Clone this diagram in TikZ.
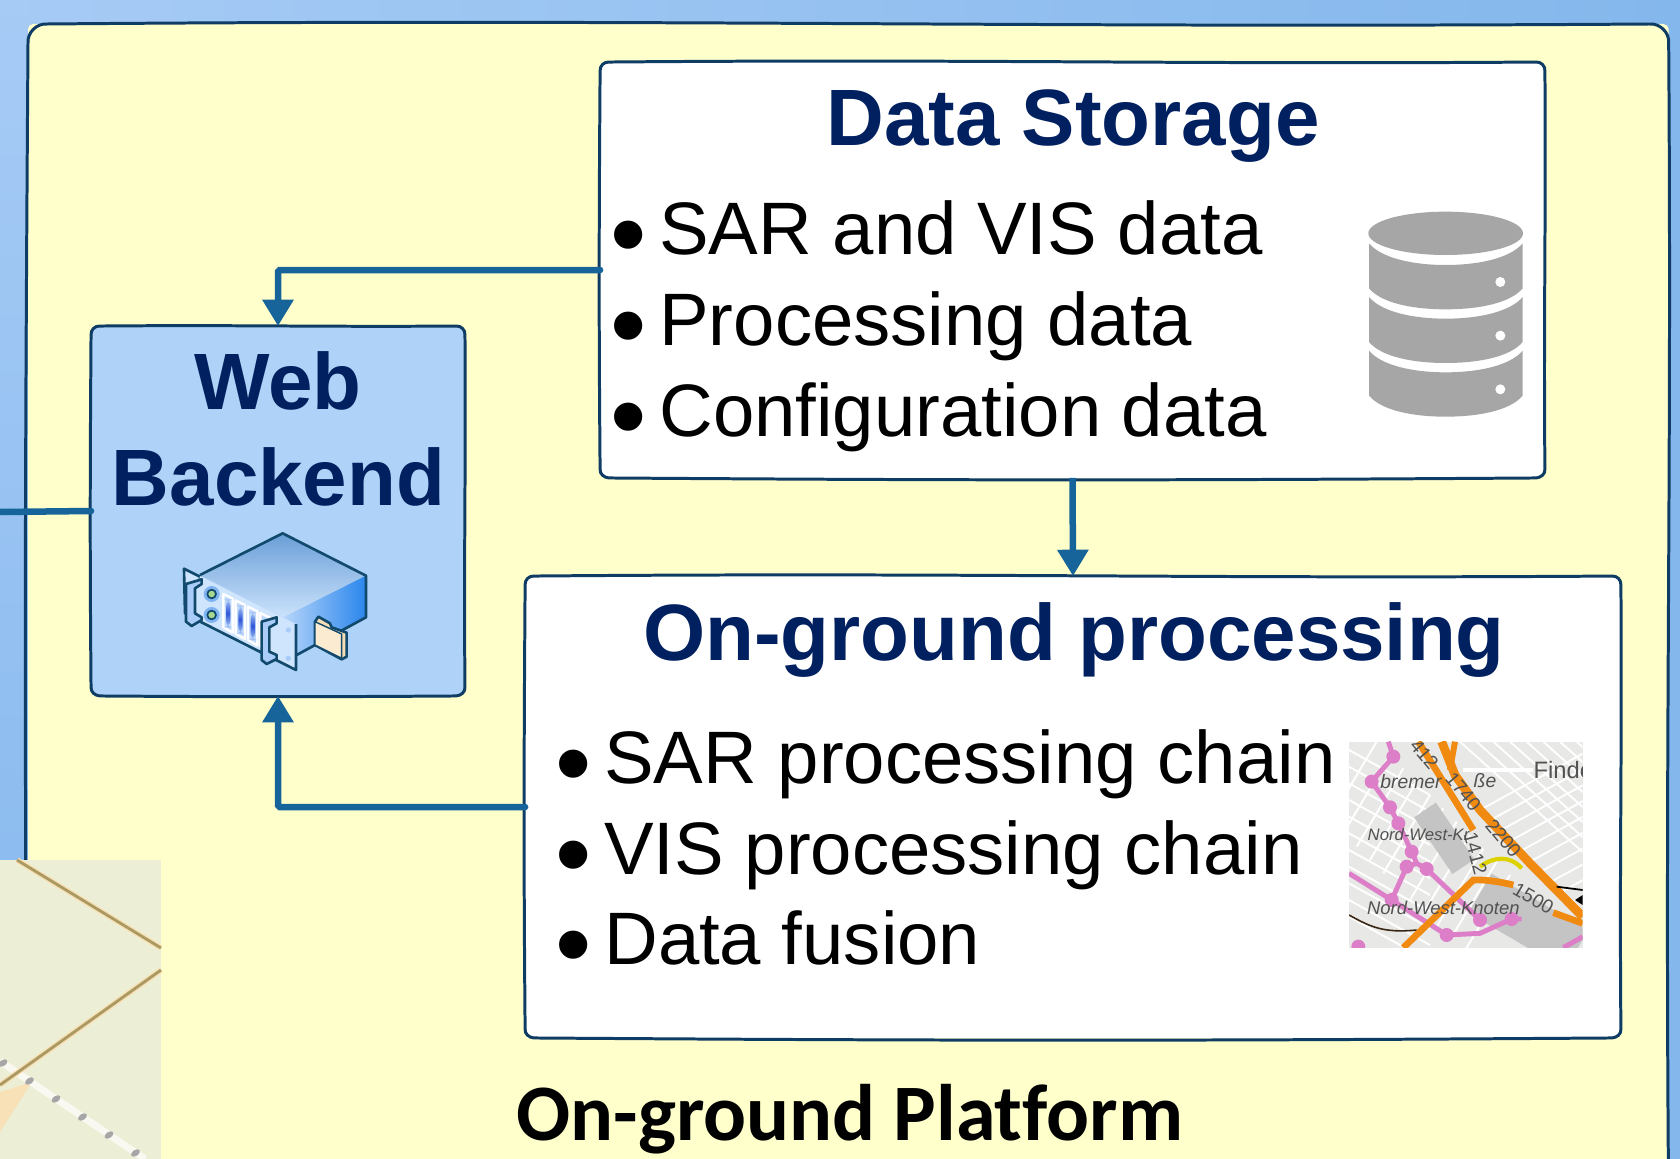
\documentclass[tikz,border=0pt]{standalone}
\usepackage{fontspec}
\setmainfont{Liberation Sans}
\newfontfamily\platformfont[Ligatures=NoCommon]{Carlito}
\usetikzlibrary{arrows.meta}

\definecolor{navytitle}{HTML}{002060}
\definecolor{boxline}{HTML}{0F3C64}
\definecolor{linkblue}{HTML}{17649A}
\definecolor{webfill}{HTML}{AFD2F8}
\definecolor{platfill}{HTML}{FFFFCC}
\definecolor{skyleft}{HTML}{A6CBF5}
\definecolor{skyright}{HTML}{84B7EC}
\definecolor{skylow}{HTML}{8DBCF0}
\definecolor{dbgrey}{HTML}{A6A6A6}
\definecolor{mappink}{HTML}{DC7EC8}
\definecolor{maporange}{HTML}{F08A10}
\definecolor{mapbase}{HTML}{E8E8E6}
\definecolor{mapband}{HTML}{C4C4C4}
\definecolor{insetbase}{HTML}{ECEED5}
\definecolor{insetroad}{HTML}{A89A62}
\definecolor{insetglow}{HTML}{FBDDB0}
\definecolor{srvline}{HTML}{124A6E}
\definecolor{srvtop}{HTML}{6A9FD8}
\definecolor{srvtopb}{HTML}{CBE2FB}
\definecolor{srvside}{HTML}{B6D5FA}
\definecolor{srvsideb}{HTML}{2A86EC}
\definecolor{srvfront}{HTML}{CFE4FD}
\definecolor{srvslot}{HTML}{BFD9FA}
\definecolor{srvbar}{HTML}{2F55D8}
\definecolor{srvbarb}{HTML}{A8C4F4}
\definecolor{srvhalo}{HTML}{7FB3F2}
\definecolor{srvled}{HTML}{A8D890}
\definecolor{srvhole}{HTML}{A9CCF9}
\definecolor{folderfill}{HTML}{F5DDB5}
\definecolor{folderface}{HTML}{FBEBD0}

\newcommand{\blt}[1]{\llap{\raisebox{-8.8pt}{\fontsize{59}{59}\selectfont •}\hspace{7pt}}#1}

\newcommand{\sketchoutline}[2]{
  \draw[sketchline] ([xshift=#2]#1.north west) to[out=.5,in=180.4] ([xshift=-#2]#1.north east)
    to[out=5,in=85] ([yshift=-#2]#1.north east) to[out=-89.6,in=90.5] ([yshift=#2]#1.south east)
    to[out=-85,in=5] ([xshift=-#2]#1.south east) to[out=180.4,in=-.4] ([xshift=#2]#1.south west)
    to[out=175,in=-95] ([yshift=#2]#1.south west) to[out=90.5,in=-90.4] ([yshift=-#2]#1.north west)
    to[out=95,in=175] cycle;
}

\tikzset{
  sketchbox/.style={inner sep=0pt,outer sep=0pt,rounded corners=3pt},
  sketchline/.style={draw=boxline,line width=1.7pt,line join=round},
  titletext/.style={font=\fontsize{45.5}{55}\selectfont\bfseries,text=navytitle,anchor=base},
  itemtext/.style={font=\fontsize{42.3}{50}\selectfont,anchor=base west,inner sep=0pt},
  link/.style={draw=linkblue,line width=3.7pt,rounded corners=1pt,line cap=round},
  tip/.style={-{Triangle[width=17pt,length=15pt]}},
  maplabel/.style={font=\fontsize{11}{11}\selectfont,text=black!68,inner sep=0pt}
}

\begin{document}
\begin{tikzpicture}[x=0.02cm,y=-0.02cm]

  \clip (0,0) rectangle (1680,1159);
  \shade[left color=skyleft,right color=skyright] (0,0) rectangle (1680,1159);
  \shade[top color=skyleft,bottom color=skylow] (0,0) rectangle (30,860);

  \node[sketchbox,fill=platfill,minimum width=32.82cm,minimum height=24cm,anchor=north west] (platform) at (28,24) {};
  \sketchoutline{platform}{11pt}

  \fill[insetbase] (0,860) rectangle (161,1159);
  \fill[insetglow,opacity=.8] (0,1092) -- (32,1082) -- (0,1132) -- cycle;
  \draw[white,opacity=.7,line width=4pt] (0,1061) -- (145,1159);
  \draw[insetglow,line width=3pt] (17,860) -- (161,948);
  \draw[insetglow,line width=3pt] (161,970) -- (0,1085);
  \draw[insetroad,line width=1.6pt] (17,860) -- (161,948);
  \draw[insetroad,line width=1.6pt] (161,970) -- (0,1085);
  \foreach \k in {0,...,5}
    \fill[gray!70,rotate around={34:(3+26.5*\k,1063+18*\k)}] (3+26.5*\k,1063+18*\k) ellipse [x radius=5,y radius=3];

  \node[sketchbox,fill=white,minimum width=18.9cm,minimum height=8.32cm] (storage) at (1072.5,270) {};
  \sketchoutline{storage}{5pt}
  \node[sketchbox,fill=webfill,minimum width=7.48cm,minimum height=7.4cm] (web) at (278,511) {};
  \sketchoutline{web}{5pt}
  \node[sketchbox,fill=white,minimum width=21.92cm,minimum height=9.24cm] (onground) at (1073,807) {};
  \sketchoutline{onground}{5pt}

  \draw[link,tip] (storage.west) -| (web.north);
  \draw[link,tip] (onground.west) -| (web.south);
  \draw[link,tip,line cap=butt] (storage.south) -- (onground.north);
  \coordinate (stub) at (0,512);
  \draw[link] (web.west) -- (stub);

  \begin{scope}[every node/.style={titletext}]
    \node (storagetitle) at (1073,145.5) {Data Storage};
    \node (webtitle) at (278,409) {Web};
    \node (backendtitle) at (278.5,505.5) {Backend};
    \node (groundtitle) at (1074,660) {On-ground processing};
  \end{scope}

  \begin{scope}[every node/.style={itemtext}]
    \node (sardata) at (659,254.5) {\blt{SAR and VIS data}};
    \node (procdata) at (659,345.5) {\blt{Processing data}};
    \node (confdata) at (659,436) {\blt{Configuration data}};
    \node (sarchain) at (604,783) {\blt{SAR processing chain}};
    \node (vischain) at (604,874) {\blt{VIS processing chain}};
    \node (fusion) at (604,964) {\blt{Data fusion}};
  \end{scope}

  \node[font=\platformfont\fontsize{45.6}{55}\selectfont\bfseries,anchor=base west,inner sep=0pt] (platformtitle) at (516,1140.5) {On-ground Platform};

  \begin{scope}[shift={(1340,190)},scale=1/3]
    \fill[dbgrey] (317,130) ellipse [x radius=232,y radius=65];
    \foreach \d in {0,161,322}
      \fill[dbgrey] (87,160+\d) .. controls (125,205+\d) and (220,225+\d) .. (317,225+\d)
        .. controls (415,225+\d) and (510,205+\d) .. (548,160+\d) -- (548,295+\d)
        .. controls (510,340+\d) and (415,358+\d) .. (317,358+\d)
        .. controls (220,358+\d) and (125,340+\d) .. (87,295+\d) -- cycle;
    \foreach \d in {0,161,322}
      \fill[white] (481,276+\d) circle (15);
  \end{scope}

  \begin{scope}[shift={(150,510)},scale=1/3,line join=round]
    \draw[srvline,line width=1.5pt,fill=srvfront] (102,176) -- (150,200) -- (150,320) -- (105,310) -- cycle;
    \shade[top color=srvtop,bottom color=srvtopb] (150,195) -- (398,70) -- (648,197) -- (400,322) -- cycle;
    \shade[left color=srvside,right color=srvsideb] (400,322) -- (648,197) -- (648,322) -- (440,435) -- cycle;
    \fill[srvfront] (150,198) -- (438,342) -- (438,480) -- (125,322) -- cycle;
    \draw[srvline,line width=1.5pt] (150,195) -- (398,70) -- (648,197) -- (648,322) -- (440,435);
    \draw[srvline,line width=1.5pt] (125,322) -- (438,480) -- (438,342);
    \foreach \k in {0,1,2,3}{
      \draw[white,line width=1.4pt,fill=srvslot] (220+37*\k,252+19*\k) -- (248+37*\k,266+19*\k) -- (248+37*\k,368+19*\k) -- (220+37*\k,352+19*\k) -- cycle;
      \ifnum\k<3
      \shade[top color=srvbarb,bottom color=srvbarb,middle color=srvbar,rounded corners=4pt] (228+37*\k,268+19*\k) rectangle (241+37*\k,352+19*\k);
      \fi
    }
    \foreach \yy in {252,315}{
      \fill[srvhalo] (185,\yy) circle (24);
      \draw[srvline,line width=1pt,fill=srvled] (185,\yy) circle (13);
    }
    \fill[srvhole] (415,360) circle (8);
    \fill[srvhole] (415,445) circle (8);
    \draw[srvline,line width=1.5pt,fill=srvhole] (108,222) -- (155,208) -- (155,222) -- (135,235) -- (135,310) -- (155,322) -- (155,330) -- (125,348) -- (108,335) -- cycle;
    \draw[srvline,line width=1.5pt,fill=srvhole] (335,335) -- (380,322) -- (380,340) -- (358,352) -- (358,425) -- (380,435) -- (380,447) -- (350,462) -- (335,450) -- cycle;
    \draw[srvline,line width=1.5pt,fill=folderfill] (505,320) -- (540,340) -- (545,352) -- (590,368) -- (590,440) -- (575,448) -- (495,405) -- (495,335) -- cycle;
    \draw[srvline,line width=.8pt,fill=folderface] (495,335) -- (575,372) -- (575,445) -- (495,405) -- cycle;
  \end{scope}

  \begin{scope}[shift={(1330,720)},scale=1/3]
    \fill[mapbase] (57,65) rectangle (758,683);
    \clip (57,65) rectangle (758,683);
    \foreach \k in {0,...,10}{
      \draw[white,line width=1.1pt] (450+30*\k,270+31*\k) -- (800+30*\k,78+31*\k);
      \draw[white,line width=1.1pt] (390+50*\k,65) -- (790+50*\k,425);
      \draw[white,line width=1.1pt] (57,90+50*\k) -- (300,225+50*\k);
      \draw[white,line width=1.1pt] (40*\k,300+40*\k) -- (140+40*\k,65+40*\k);
    }
    \draw[white,line width=2pt] (400,150) -- (610,150);
    \draw[mapband,line width=15pt] (285,270) -- (400,440);
    \draw[mapband,line width=26pt] (450,520) -- (740,690);
    \draw[mappink,line width=2.8pt,line join=round] (175,65) -- (190,110) -- (125,185) -- (180,262) -- (205,310) -- (245,395) -- (260,430) -- (290,447) -- (450,600);
    \draw[mappink,line width=2.8pt,line join=round] (260,430) -- (230,440) -- (185,540);
    \draw[mappink,line width=2.8pt,line join=round] (57,460) -- (185,540) -- (350,645) -- (450,640) -- (545,597) -- (575,597);
    \draw[mappink,line width=2.8pt] (700,683) -- (758,650);
    \foreach \mx/\my in {190/110,125/185,180/262,205/310,245/395,230/440,290/447,185/540,350/645,450/600,545/597,85/680}
      \fill[mappink] (\mx,\my) circle (21);
    \draw[black!70!brown,line width=.9pt] (57,585) .. controls (120,620) and (160,640) .. (260,630);
    \draw[maporange,line width=3.8pt] (265,65) -- (430,330);
    \draw[maporange,line width=3.4pt] (375,65) -- (360,150);
    \draw[maporange,line width=5pt] (335,65) -- (375,165) -- (450,270) -- (600,430) -- (758,590);
    \draw[yellow!70!olive,line width=2.4pt] (450,440) .. controls (490,410) and (540,405) .. (575,445);
    \draw[maporange,line width=3.8pt] (220,683) -- (430,480) .. controls (460,478) and (510,485) .. (550,495);
    \draw[maporange,line width=3.8pt] (670,578) -- (758,610);
    \draw[black,line width=1pt] (680,500) -- (758,510);
    \fill[black] (735,540) -- (758,525) -- (758,555) -- cycle;
    \begin{scope}[every node/.style={maplabel}]
      \node[font=\fontsize{13.5}{14}\selectfont,anchor=west] (mapfindc) at (610,150) {Findc};
      \node[rotate=-50] (maplabela) at (283,103) {412};
      \node[rotate=-50] (maplabelb) at (400,215) {1740};
      \node[rotate=-50] (maplabelc) at (520,355) {2200};
      \node[rotate=-75] (maplabeld) at (437,400) {1412};
      \node[rotate=-30] (maplabele) at (610,535) {1500};
      \node[anchor=west] (mapbremer) at (150,185) {\itshape bremer};
      \node (mapstrasse) at (465,182) {\itshape ße};
      \node[anchor=west,font=\fontsize{9.5}{9.5}\selectfont] (mapkreuz) at (112,345) {\itshape Nord-West-Kr};
      \node[font=\fontsize{10.5}{10.5}\selectfont] (mapknoten) at (340,565) {\itshape Nord-West-Knoten};
    \end{scope}
  \end{scope}

\end{tikzpicture}
\end{document}
